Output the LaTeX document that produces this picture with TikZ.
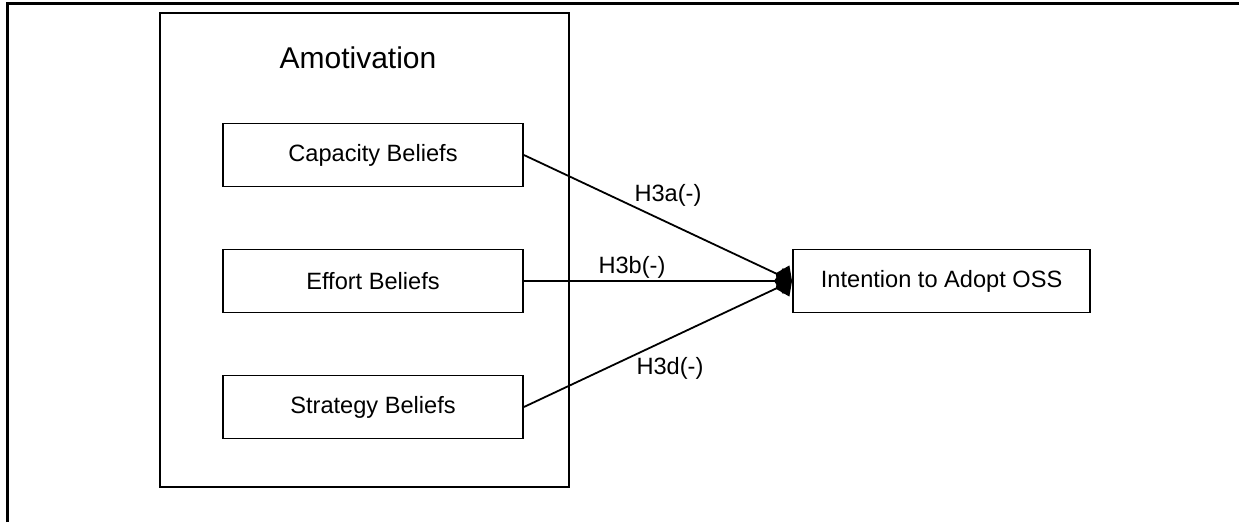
\documentclass[tikz,border=0pt]{standalone}
\usepackage{fontspec}
\setmainfont{Liberation Sans}
\usetikzlibrary{arrows.meta}
\def\largeur{1239}
\def\hauteur{522}

\begin{document}
\begin{tikzpicture}[x=1pt, y=-1pt,
	box/.style={draw, line width=1.8pt, minimum width=300pt, minimum height=63pt, inner sep=0pt, font=\fontsize{23.6}{28}\selectfont},
	hyp/.style={font=\fontsize{23.6}{28}\selectfont, inner sep=0pt},
	lien/.style={line width=1.8pt, -{Diamond[length=18pt,width=26pt]}}]
	\useasboundingbox (0,0) rectangle (\largeur,\hauteur);
	% cadre
	\draw[line width=3pt] (7,\hauteur) -- (7,3) -- (\largeur,3);
	% bloc amotivation
	\draw[line width=1.8pt] (160,13) rectangle (569,487);
	\node[font=\fontsize{30}{36}\selectfont, inner sep=0pt] (amot) at (358,58) {Amotivation};
	\node[box] (cap) at (373,155) {Capacity Beliefs};
	\node[box] (eff) at (373,281) {Effort Beliefs};
	\node[box] (strat) at (373,407) {Strategy Beliefs};
	\node[box, minimum width=0pt, inner xsep=28pt, anchor=west] (int) at (792,281) {Intention to Adopt OSS};
	%\draw[step=10pt, black!20] (0,0) grid (\largeur,\hauteur);
	\draw[lien] (cap.east) -- (int.west);
	\draw[lien] (eff.east) -- (int.west);
	\draw[lien] (strat.east) -- (int.west);
	\node[hyp] (h3a) at (668,195) {H3a(-)};
	\node[hyp] (h3b) at (632,267) {H3b(-)};
	\node[hyp] (h3d) at (670,368) {H3d(-)};
\end{tikzpicture}
\end{document}
